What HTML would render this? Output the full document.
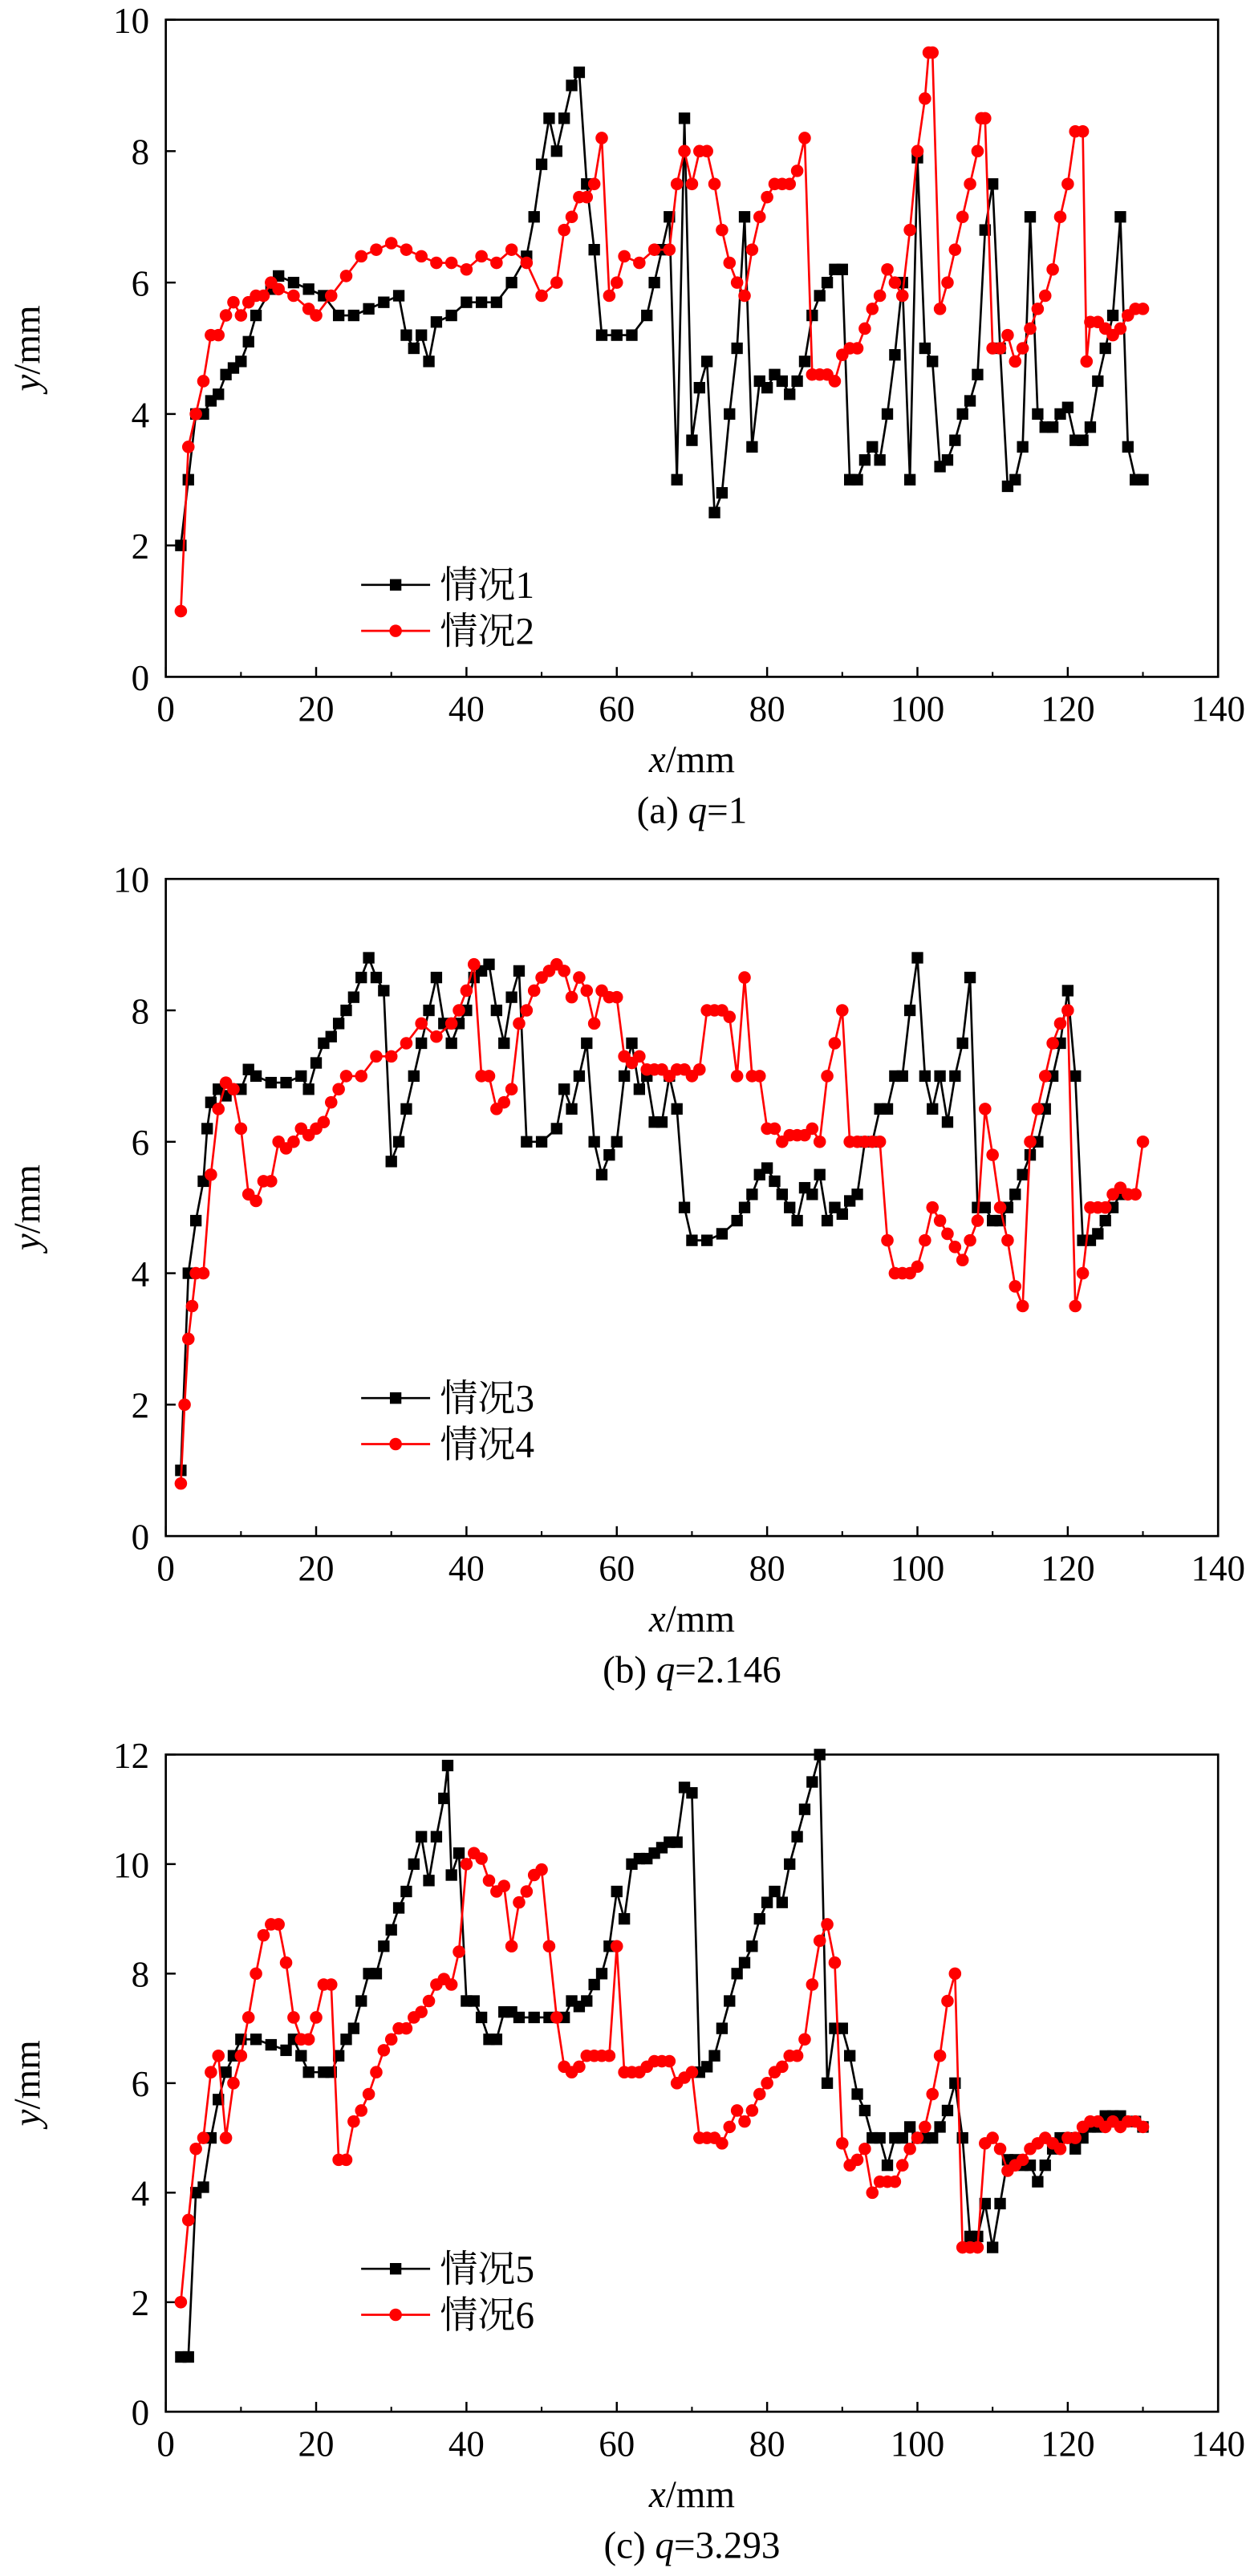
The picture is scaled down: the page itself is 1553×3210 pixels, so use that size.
<!DOCTYPE html>
<html><head><meta charset="utf-8"><style>
html,body{margin:0;padding:0;background:#fff;}
svg{display:block;}
text{font-family:"Liberation Serif","Noto Serif CJK SC",serif;fill:#000;}
</style></head><body>
<svg id="chart" width="1553" height="3210" viewBox="0 0 759 1568" preserveAspectRatio="none" xmlns="http://www.w3.org/2000/svg"></svg>
<script>
// Panel (a)
const xA1=[2,3,4,5,6,7,8,9,10,11,12,14,15,17,19,21,23,25,27,29,31,32,33,34,35,36,38,40,42,44,46,48,49,50,51,52,53,54,55,56,57,58,60,62,64,65,66,67,68,69,70,71,72,73,74,75,76,77,78,79,80,81,82,83,84,85,86,87,88,89,90,91,92,93,94,95,96,97,98,99,100,101,102,103,104,105,106,107,108,109,110,111,112,113,114,115,116,117,118,119,120,121,122,123,124,125,126,127,128,129,130];
const yA1=[2,3,4,4,4.2,4.3,4.6,4.7,4.8,5.1,5.5,5.9,6.1,6.0,5.9,5.8,5.5,5.5,5.6,5.7,5.8,5.2,5.0,5.2,4.8,5.4,5.5,5.7,5.7,5.7,6.0,6.4,7.0,7.8,8.5,8.0,8.5,9.0,9.2,7.5,6.5,5.2,5.2,5.2,5.5,6.0,6.5,7.0,3.0,8.5,3.6,4.4,4.8,2.5,2.8,4.0,5.0,7.0,3.5,4.5,4.4,4.6,4.5,4.3,4.5,4.8,5.5,5.8,6.0,6.2,6.2,3.0,3.0,3.3,3.5,3.3,4.0,4.9,6.0,3.0,7.9,5.0,4.8,3.2,3.3,3.6,4.0,4.2,4.6,6.8,7.5,5.0,2.9,3.0,3.5,7.0,4.0,3.8,3.8,4.0,4.1,3.6,3.6,3.8,4.5,5.0,5.5,7.0,3.5,3.0,3.0];
const xA2=[2,3,4,5,6,7,8,9,10,11,12,13,14,15,17,19,20,22,24,26,28,30,32,34,36,38,40,42,44,46,48,50,52,53,54,55,56,57,58,59,60,61,63,65,67,68,69,70,71,72,73,74,75,76,77,78,79,80,81,82,83,84,85,86,87,88,89,90,91,92,93,94,95,96,97,98,99,100,101,101.5,102,103,104,105,106,107,108,108.5,109,110,111,112,113,114,115,116,117,118,119,120,121,122,122.5,123,124,125,126,127,128,129,130];
const yA2=[1,3.5,4.0,4.5,5.2,5.2,5.5,5.7,5.5,5.7,5.8,5.8,6.0,5.9,5.8,5.6,5.5,5.8,6.1,6.4,6.5,6.6,6.5,6.4,6.3,6.3,6.2,6.4,6.3,6.5,6.3,5.8,6.0,6.8,7.0,7.3,7.3,7.5,8.2,5.8,6.0,6.4,6.3,6.5,6.5,7.5,8.0,7.5,8.0,8.0,7.5,6.8,6.3,6.0,5.8,6.5,7.0,7.3,7.5,7.5,7.5,7.7,8.2,4.6,4.6,4.6,4.5,4.9,5.0,5.0,5.3,5.6,5.8,6.2,6.0,5.8,6.8,8.0,8.8,9.5,9.5,5.6,6.0,6.5,7.0,7.5,8.0,8.5,8.5,5.0,5.0,5.2,4.8,5.0,5.3,5.6,5.8,6.2,7.0,7.5,8.3,8.3,4.8,5.4,5.4,5.3,5.2,5.3,5.5,5.6,5.6];
// Panel (b)
const xB1=[2,3,4,5,5.5,6,7,8,10,11,12,14,16,18,19,20,21,22,23,24,25,26,27,28,29,30,31,32,33,34,35,36,37,38,39,40,41,42,43,44,45,46,47,48,50,52,53,54,55,56,57,58,59,60,61,62,63,64,65,66,67,68,69,70,72,74,76,77,78,79,80,81,82,83,84,85,86,87,88,89,90,91,92,93,94,95,96,97,98,99,100,101,102,103,104,105,106,107,108,109,110,111,112,113,114,115,116,117,118,119,120,121,122,123,124,125,126,127];
const yB1=[1,4,4.8,5.4,6.2,6.6,6.8,6.7,6.8,7.1,7.0,6.9,6.9,7.0,6.8,7.2,7.5,7.6,7.8,8.0,8.2,8.5,8.8,8.5,8.3,5.7,6.0,6.5,7.0,7.5,8.0,8.5,7.8,7.5,7.8,8.0,8.5,8.6,8.7,8.0,7.5,8.2,8.6,6.0,6.0,6.2,6.8,6.5,7.0,7.5,6.0,5.5,5.8,6.0,7.0,7.5,6.8,7.0,6.3,6.3,7.0,6.5,5.0,4.5,4.5,4.6,4.8,5.0,5.2,5.5,5.6,5.4,5.2,5.0,4.8,5.3,5.2,5.5,4.8,5.0,4.9,5.1,5.2,6.0,6.0,6.5,6.5,7.0,7.0,8.0,8.8,7.0,6.5,7.0,6.3,7.0,7.5,8.5,5.0,5.0,4.8,4.8,5.0,5.2,5.5,5.8,6.0,6.5,7.0,7.5,8.3,7.0,4.5,4.5,4.6,4.8,5.0,5.2];
const xB2=[2,2.5,3,3.5,4,5,6,7,8,9,10,11,12,13,14,15,16,17,18,19,20,21,22,23,24,26,28,30,32,34,36,38,39,40,41,42,43,44,45,46,47,48,49,50,51,52,53,54,55,56,57,58,59,60,61,62,63,64,65,66,67,68,69,70,71,72,73,74,75,76,77,78,79,80,81,82,83,84,85,86,87,88,89,90,91,92,93,94,95,96,97,98,99,100,101,102,103,104,105,106,107,108,109,110,111,112,113,114,115,116,117,118,119,120,121,122,123,124,125,126,127,128,129,130];
const yB2=[0.8,2,3,3.5,4,4,5.5,6.5,6.9,6.8,6.2,5.2,5.1,5.4,5.4,6.0,5.9,6.0,6.2,6.1,6.2,6.3,6.6,6.8,7.0,7.0,7.3,7.3,7.5,7.8,7.6,7.8,8.0,8.3,8.7,7.0,7.0,6.5,6.6,6.8,7.8,8.0,8.3,8.5,8.6,8.7,8.6,8.2,8.5,8.3,7.8,8.3,8.2,8.2,7.3,7.2,7.3,7.1,7.1,7.1,7.0,7.1,7.1,7.0,7.1,8.0,8.0,8.0,7.9,7.0,8.5,7.0,7.0,6.2,6.2,6.0,6.1,6.1,6.1,6.2,6.0,7.0,7.5,8.0,6.0,6.0,6.0,6.0,6.0,4.5,4.0,4.0,4.0,4.1,4.5,5.0,4.8,4.6,4.4,4.2,4.5,4.8,6.5,5.8,5.0,4.5,3.8,3.5,6.0,6.5,7.0,7.5,7.8,8.0,3.5,4.0,5.0,5.0,5.0,5.2,5.3,5.2,5.2,6.0];
// Panel (c)
const xC1=[2,3,4,5,6,7,8,9,10,12,14,16,17,18,19,21,22,23,24,25,26,27,28,29,30,31,32,33,34,35,36,37,37.5,38,39,40,41,42,43,44,45,46,47,49,51,53,54,55,56,57,58,59,60,61,62,63,64,65,66,67,68,69,70,71,72,73,74,75,76,77,78,79,80,81,82,83,84,85,86,87,88,89,90,91,92,93,94,95,96,97,98,99,100,101,102,103,104,105,106,107,108,109,110,111,112,113,114,115,116,117,118,119,120,121,122,123,124,125,126,127,128,129,130];
const yC1=[1,1,4,4.1,5,5.7,6.2,6.5,6.8,6.8,6.7,6.6,6.8,6.5,6.2,6.2,6.2,6.5,6.8,7.0,7.5,8.0,8.0,8.5,8.8,9.2,9.5,10.0,10.5,9.7,10.5,11.2,11.8,9.8,10.2,7.5,7.5,7.2,6.8,6.8,7.3,7.3,7.2,7.2,7.2,7.2,7.5,7.4,7.5,7.8,8.0,8.5,9.5,9.0,10.0,10.1,10.1,10.2,10.3,10.4,10.4,11.4,11.3,6.2,6.3,6.5,7.0,7.5,8.0,8.2,8.5,9.0,9.3,9.5,9.3,10.0,10.5,11.0,11.5,12.0,6.0,7.0,7.0,6.5,5.8,5.5,5.0,5.0,4.5,5.0,5.0,5.2,5.0,5.0,5.0,5.2,5.5,6.0,5.0,3.2,3.2,3.8,3.0,3.8,4.6,4.6,4.5,4.5,4.2,4.5,4.8,5.0,5.0,4.8,5.0,5.2,5.2,5.4,5.4,5.4,5.3,5.3,5.2];
const xC2=[2,3,4,5,6,7,8,9,10,11,12,13,14,15,16,17,18,19,20,21,22,23,24,25,26,27,28,29,30,31,32,33,34,35,36,37,38,39,40,41,42,43,44,45,46,47,48,49,50,51,52,53,54,55,56,57,58,59,60,61,62,63,64,65,66,67,68,69,70,71,72,73,74,75,76,77,78,79,80,81,82,83,84,85,86,87,88,89,90,91,92,93,94,95,96,97,98,99,100,101,102,103,104,105,106,107,108,109,110,111,112,113,114,115,116,117,118,119,120,121,122,123,124,125,126,127,128,129,130];
const yC2=[2,3.5,4.8,5,6.2,6.5,5.0,6.0,6.5,7.2,8.0,8.7,8.9,8.9,8.2,7.2,6.8,6.8,7.2,7.8,7.8,4.6,4.6,5.3,5.5,5.8,6.2,6.6,6.8,7.0,7.0,7.2,7.3,7.5,7.8,7.9,7.8,8.4,10.0,10.2,10.1,9.7,9.5,9.6,8.5,9.3,9.5,9.8,9.9,8.5,7.2,6.3,6.2,6.3,6.5,6.5,6.5,6.5,8.5,6.2,6.2,6.2,6.3,6.4,6.4,6.4,6.0,6.1,6.2,5.0,5.0,5.0,4.9,5.2,5.5,5.3,5.5,5.8,6.0,6.2,6.3,6.5,6.5,6.8,7.8,8.6,8.9,8.2,4.9,4.5,4.6,4.8,4.0,4.2,4.2,4.2,4.5,4.8,5.0,5.2,5.8,6.5,7.5,8.0,3.0,3.0,3.0,4.9,5.0,4.8,4.4,4.5,4.6,4.8,4.9,5.0,4.9,4.8,5.0,5.0,5.2,5.3,5.3,5.2,5.3,5.2,5.3,5.3,5.2];
const xTicks=[0,20,40,60,80,100,120,140];
const yTicksAB=[2,4,6,8,10];
const yTicksC=[2,4,6,8,10,12];

const NS="http://www.w3.org/2000/svg";
const svg=document.getElementById('chart');
function mk(tag,attrs,parent){const e=document.createElementNS(NS,tag);for(const k in attrs)e.setAttribute(k,attrs[k]);(parent||svg).appendChild(e);return e;}
const L=101,R=742;
function panel(key,top,bottom,ymax,yTicks,s1,s2,n1,n2,legY,caption,qv){
  const g=mk('g',{});
  
  
  const sx=v=>L+(R-L)*v/140;
  const sy=v=>bottom-(bottom-top)*v/ymax;
  const frame=mk('rect',{x:L,y:top,width:R-L,height:bottom-top,fill:'none',stroke:'#000','stroke-width':1.3},g);
  
  
  xTicks.forEach(t=>{
    mk('line',{x1:sx(t),x2:sx(t),y1:bottom,y2:bottom-6,stroke:'#000','stroke-width':1.2},g);
    const tx=mk('text',{x:sx(t),y:bottom+27,'text-anchor':'middle','font-size':22},g);
    tx.textContent=t;
    
    
  });
  for(let t=10;t<140;t+=20){mk('line',{x1:sx(t),x2:sx(t),y1:bottom,y2:bottom-3,stroke:'#000','stroke-width':1},g);}
  yTicks.forEach(t=>{
    mk('line',{x1:L,x2:L+6,y1:sy(t),y2:sy(t),stroke:'#000','stroke-width':1.2},g);
    const tx=mk('text',{x:L-10,y:sy(t)+8,'text-anchor':'end','font-size':22},g);
    tx.textContent=t;
    
    
  });
  const z=mk('text',{x:L-10,y:bottom+8,'text-anchor':'end','font-size':22},g);z.textContent='0';
  
  
  const yl=mk('text',{x:0,y:0,'text-anchor':'middle','font-size':23,transform:`translate(24,${(top+bottom)/2}) rotate(-90)`},g);
  yl.innerHTML='<tspan font-style="italic">y</tspan>/mm';
  
  
  const xl=mk('text',{x:(L+R)/2,y:bottom+58,'text-anchor':'middle','font-size':23},g);
  xl.innerHTML='<tspan font-style="italic">x</tspan>/mm';
  
  
  const cp=mk('text',{x:(L+R)/2,y:bottom+89,'text-anchor':'middle','font-size':23},g);
  cp.innerHTML='('+key+') <tspan font-style="italic">q</tspan>='+qv;
  
  
  const series=[[s1[0],s1[1],'#000','sq',n1],[s2[0],s2[1],'#ff0000','ci',n2]];
  series.forEach((s,i)=>{
    const [xs,ys,col,mkType,name]=s;
    const sg=mk('g',{},g);
    
    
    const pts=xs.map((x,j)=>sx(x).toFixed(2)+','+sy(ys[j]).toFixed(2)).join(' ');
    const pl=mk('polyline',{points:pts,fill:'none',stroke:col,'stroke-width':1.3},sg);
    
    
    xs.forEach((x,j)=>{
      let m;
      if(mkType==='sq') m=mk('rect',{x:sx(x)-3.5,y:sy(ys[j])-3.5,width:7,height:7,fill:col},sg);
      else m=mk('circle',{cx:sx(x),cy:sy(ys[j]),r:3.8,fill:col},sg);
      
      
    });
    const ly=legY+i*28;
    const lg=mk('g',{},g);
    
    
    mk('line',{x1:220,x2:262,y1:ly,y2:ly,stroke:col,'stroke-width':1.3},lg);
    if(mkType==='sq') mk('rect',{x:237.5,y:ly-3.5,width:7,height:7,fill:col},lg);
    else mk('circle',{cx:241,cy:ly,r:3.8,fill:col},lg);
    const lt=mk('text',{x:268,y:ly+8,'font-size':23},lg);
    lt.textContent=name;
  });
}
panel('a',12,412,10,yTicksAB,[xA1,yA1],[xA2,yA2],'情况1','情况2',356,'a','1');
panel('b',535,935,10,yTicksAB,[xB1,yB1],[xB2,yB2],'情况3','情况4',851,'b','2.146');
panel('c',1068,1468,12,yTicksC,[xC1,yC1],[xC2,yC2],'情况5','情况6',1381,'c','3.293');
</script>
</body></html>
